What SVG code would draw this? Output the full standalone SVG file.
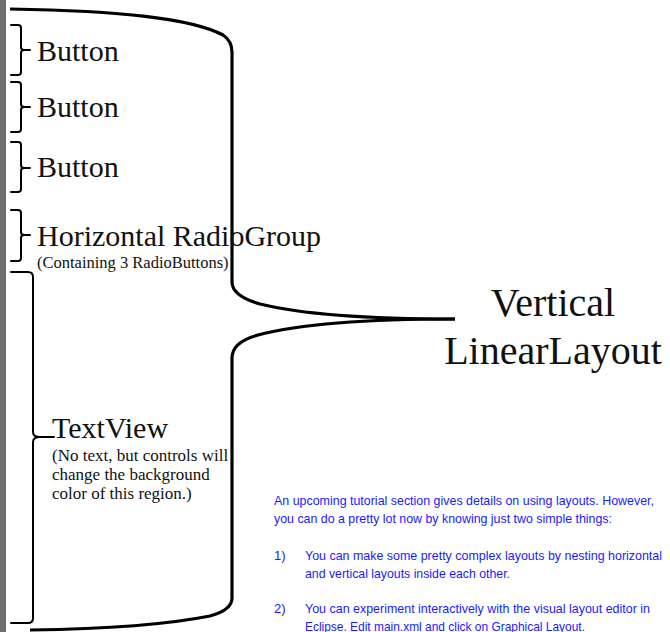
<svg xmlns="http://www.w3.org/2000/svg" width="670" height="632" viewBox="0 0 670 632">
  <style>
    .brace { fill: none; stroke: #000; stroke-width: 2; stroke-linejoin: round; stroke-linecap: round; }
    .big { fill: none; stroke: #000; stroke-width: 3.2; stroke-linecap: butt; }
    .lbl { font-family: "Liberation Serif", "Times New Roman", serif; fill: #111; }
    .note { font-family: "Liberation Sans", Arial, sans-serif; font-size: 13px; fill: #1a1aff; }
  </style>
  <rect x="0" y="0" width="670" height="632" fill="#fff"/>
  <rect x="0" y="0" width="6" height="632" fill="#6e6e6e"/>

  <g id="connectors">
    <!-- large brace for the vertical layout -->
    <path class="big" d="M10,9 C120,11 190,18 223,35 Q232,41 232,52 L232,282 Q232,296 260,304 C300,314 360,319 455,319"/>
    <path class="big" d="M455,319 C360,319 300,324 258,335 Q232,342 232,358 L232,598 Q232,610 210,616 C160,626 100,629 30,630"/>
  </g>

  <g id="button1">
    <path class="brace" d="M11,25 L18,25 Q21,25 21,28 L21,47 Q21,50 24,50 L30,50 M24,50 Q21,50 21,53 L21,72 Q21,75 18,75 L11,75"/>
    <text class="lbl" x="37" y="61" font-size="30">Button</text>
  </g>
  <g id="button2">
    <path class="brace" d="M11,82 L18,82 Q21,82 21,85 L21,104 Q21,107 24,107 L30,107 M24,107 Q21,107 21,110 L21,129 Q21,132 18,132 L11,132"/>
    <text class="lbl" x="37" y="117" font-size="30">Button</text>
  </g>
  <g id="button3">
    <path class="brace" d="M11,142 L18,142 Q21,142 21,145 L21,165 Q21,168 24,168 L30,168 M24,168 Q21,168 21,171 L21,189 Q21,192 18,192 L11,192"/>
    <text class="lbl" x="37" y="177" font-size="30">Button</text>
  </g>
  <g id="radiogroup">
    <path class="brace" d="M11,210 L18,210 Q21,210 21,213 L21,232 Q21,235 24,235 L30,235 M24,235 Q21,235 21,238 L21,258 Q21,261 18,261 L11,261"/>
    <text class="lbl" x="37" y="246" font-size="30">Horizontal RadioGroup</text>
    <text class="lbl" x="37" y="268" font-size="16.5">(Containing 3 RadioButtons)</text>
  </g>
  <g id="textview">
    <path class="brace" d="M11,272 L28,272 Q33,272 33,277 L33,432 Q33,437 40,437 L54,437 M40,437 Q33,437 33,442 L33,618 Q33,623 28,623 L11,623"/>
    <text class="lbl" x="52" y="438" font-size="30">TextView</text>
    <text class="lbl" x="52" y="461" font-size="17">(No text, but controls will</text>
    <text class="lbl" x="52" y="480" font-size="17">change the background</text>
    <text class="lbl" x="52" y="499" font-size="17">color of this region.)</text>
  </g>
  <g id="linearlayout">
    <text class="lbl" x="553" y="316" font-size="40" text-anchor="middle">Vertical</text>
    <text class="lbl" x="553" y="364" font-size="40" text-anchor="middle">LinearLayout</text>
  </g>

  <g id="notes">
    <text class="note" x="274" y="505" textLength="380" lengthAdjust="spacingAndGlyphs">An upcoming tutorial section gives details on using layouts. However,</text>
    <text class="note" x="274" y="523" textLength="338" lengthAdjust="spacingAndGlyphs">you can do a pretty lot now by knowing just two simple things:</text>
    <text class="note" x="274" y="560">1)</text>
    <text class="note" x="305" y="560" textLength="357" lengthAdjust="spacingAndGlyphs">You can make some pretty complex layouts by nesting horizontal</text>
    <text class="note" x="305" y="578" textLength="205" lengthAdjust="spacingAndGlyphs">and vertical layouts inside each other.</text>
    <text class="note" x="274" y="613">2)</text>
    <text class="note" x="305" y="613" textLength="345" lengthAdjust="spacingAndGlyphs">You can experiment interactively with the visual layout editor in</text>
    <text class="note" x="305" y="631" textLength="280" lengthAdjust="spacingAndGlyphs">Eclipse. Edit main.xml and click on Graphical Layout.</text>
  </g>
</svg>
